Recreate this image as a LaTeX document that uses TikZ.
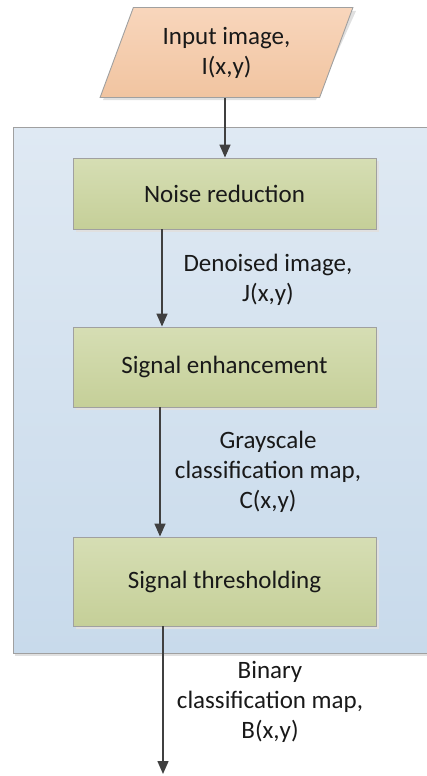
\documentclass[tikz,border=0pt]{standalone}
\usepackage{fontspec}
\setmainfont{Carlito}
\usetikzlibrary{shapes.geometric,arrows.meta}
\definecolor{arrowc}{RGB}{64,64,64}
\definecolor{edgec}{RGB}{160,160,160}
\definecolor{greenT}{RGB}{214,222,180}
\definecolor{greenB}{RGB}{197,207,152}
\definecolor{blueT}{RGB}{223,233,243}
\definecolor{blueB}{RGB}{200,218,235}
\definecolor{peachT}{RGB}{248,214,188}
\definecolor{peachB}{RGB}{241,196,160}
\tikzset{
  txt/.style={font=\fontsize{25}{30}\selectfont, text=black!90, align=center},
  stepbox/.style={txt, draw=edgec, line width=0.9pt, top color=greenT, bottom color=greenB,
     minimum width=303, inner sep=0pt},
  arr/.style={draw=arrowc, line width=1.5pt, -{Triangle[length=13pt,width=11pt]}},
  lbl/.style={txt, inner sep=0pt},
}
\begin{document}
\begin{tikzpicture}[x=1pt,y=-1pt]
\useasboundingbox (0,0) rectangle (427,776);
% container
\begin{scope}
\clip (0,0) rectangle (427,776);
\fill[black!12] (15,130) rectangle (442,656);
\draw[draw=edgec, line width=0.9pt, top color=blueT, bottom color=blueB] (13,127) rectangle (440,653);
\end{scope}
% input
\fill[black!12] (103,100) -- (143,11) -- (356,11) -- (316,100) -- cycle;
\node[txt, draw=edgec, line width=0.9pt, top color=peachT, bottom color=peachB,
  trapezium, trapezium left angle=66, trapezium right angle=114, trapezium stretches=true,
  minimum width=253, minimum height=90, inner sep=0pt] (input) at (226.5,52.5) {Input image,\\I(x,y)};
% boxes
\fill[black!12] (76,161) rectangle (379,232);
\node[stepbox, minimum height=71] (noise) at (224.5,193.5) {Noise reduction};
\fill[black!12] (76,330) rectangle (379,410);
\node[stepbox, minimum height=80] (enh) at (224.5,367) {Signal enhancement};
\fill[black!12] (76,540) rectangle (379,629);
\node[stepbox, minimum height=89] (thr) at (224.5,581.5) {Signal thresholding};
% labels
\node[lbl] (l1) at (268,280) {Denoised image,\\J(x,y)};
\node[lbl] (l2) at (268,472) {Grayscale\\classification map,\\C(x,y)};
\node[lbl] (l3) at (270,702) {Binary\\classification map,\\B(x,y)};
% connectors
\coordinate (x1) at (225,0);
\coordinate (x2) at (162,0);
\coordinate (x3) at (160,0);
\coordinate (x4) at (163,0);
\coordinate (out) at (163,774);
\draw[arr] (input.south -| x1) -- (noise.north -| x1);
\draw[arr] (noise.south -| x2) -- (enh.north -| x2);
\draw[arr] (enh.south -| x3) -- (thr.north -| x3);
\draw[arr] (thr.south -| x4) -- (out);
\end{tikzpicture}
\end{document}
